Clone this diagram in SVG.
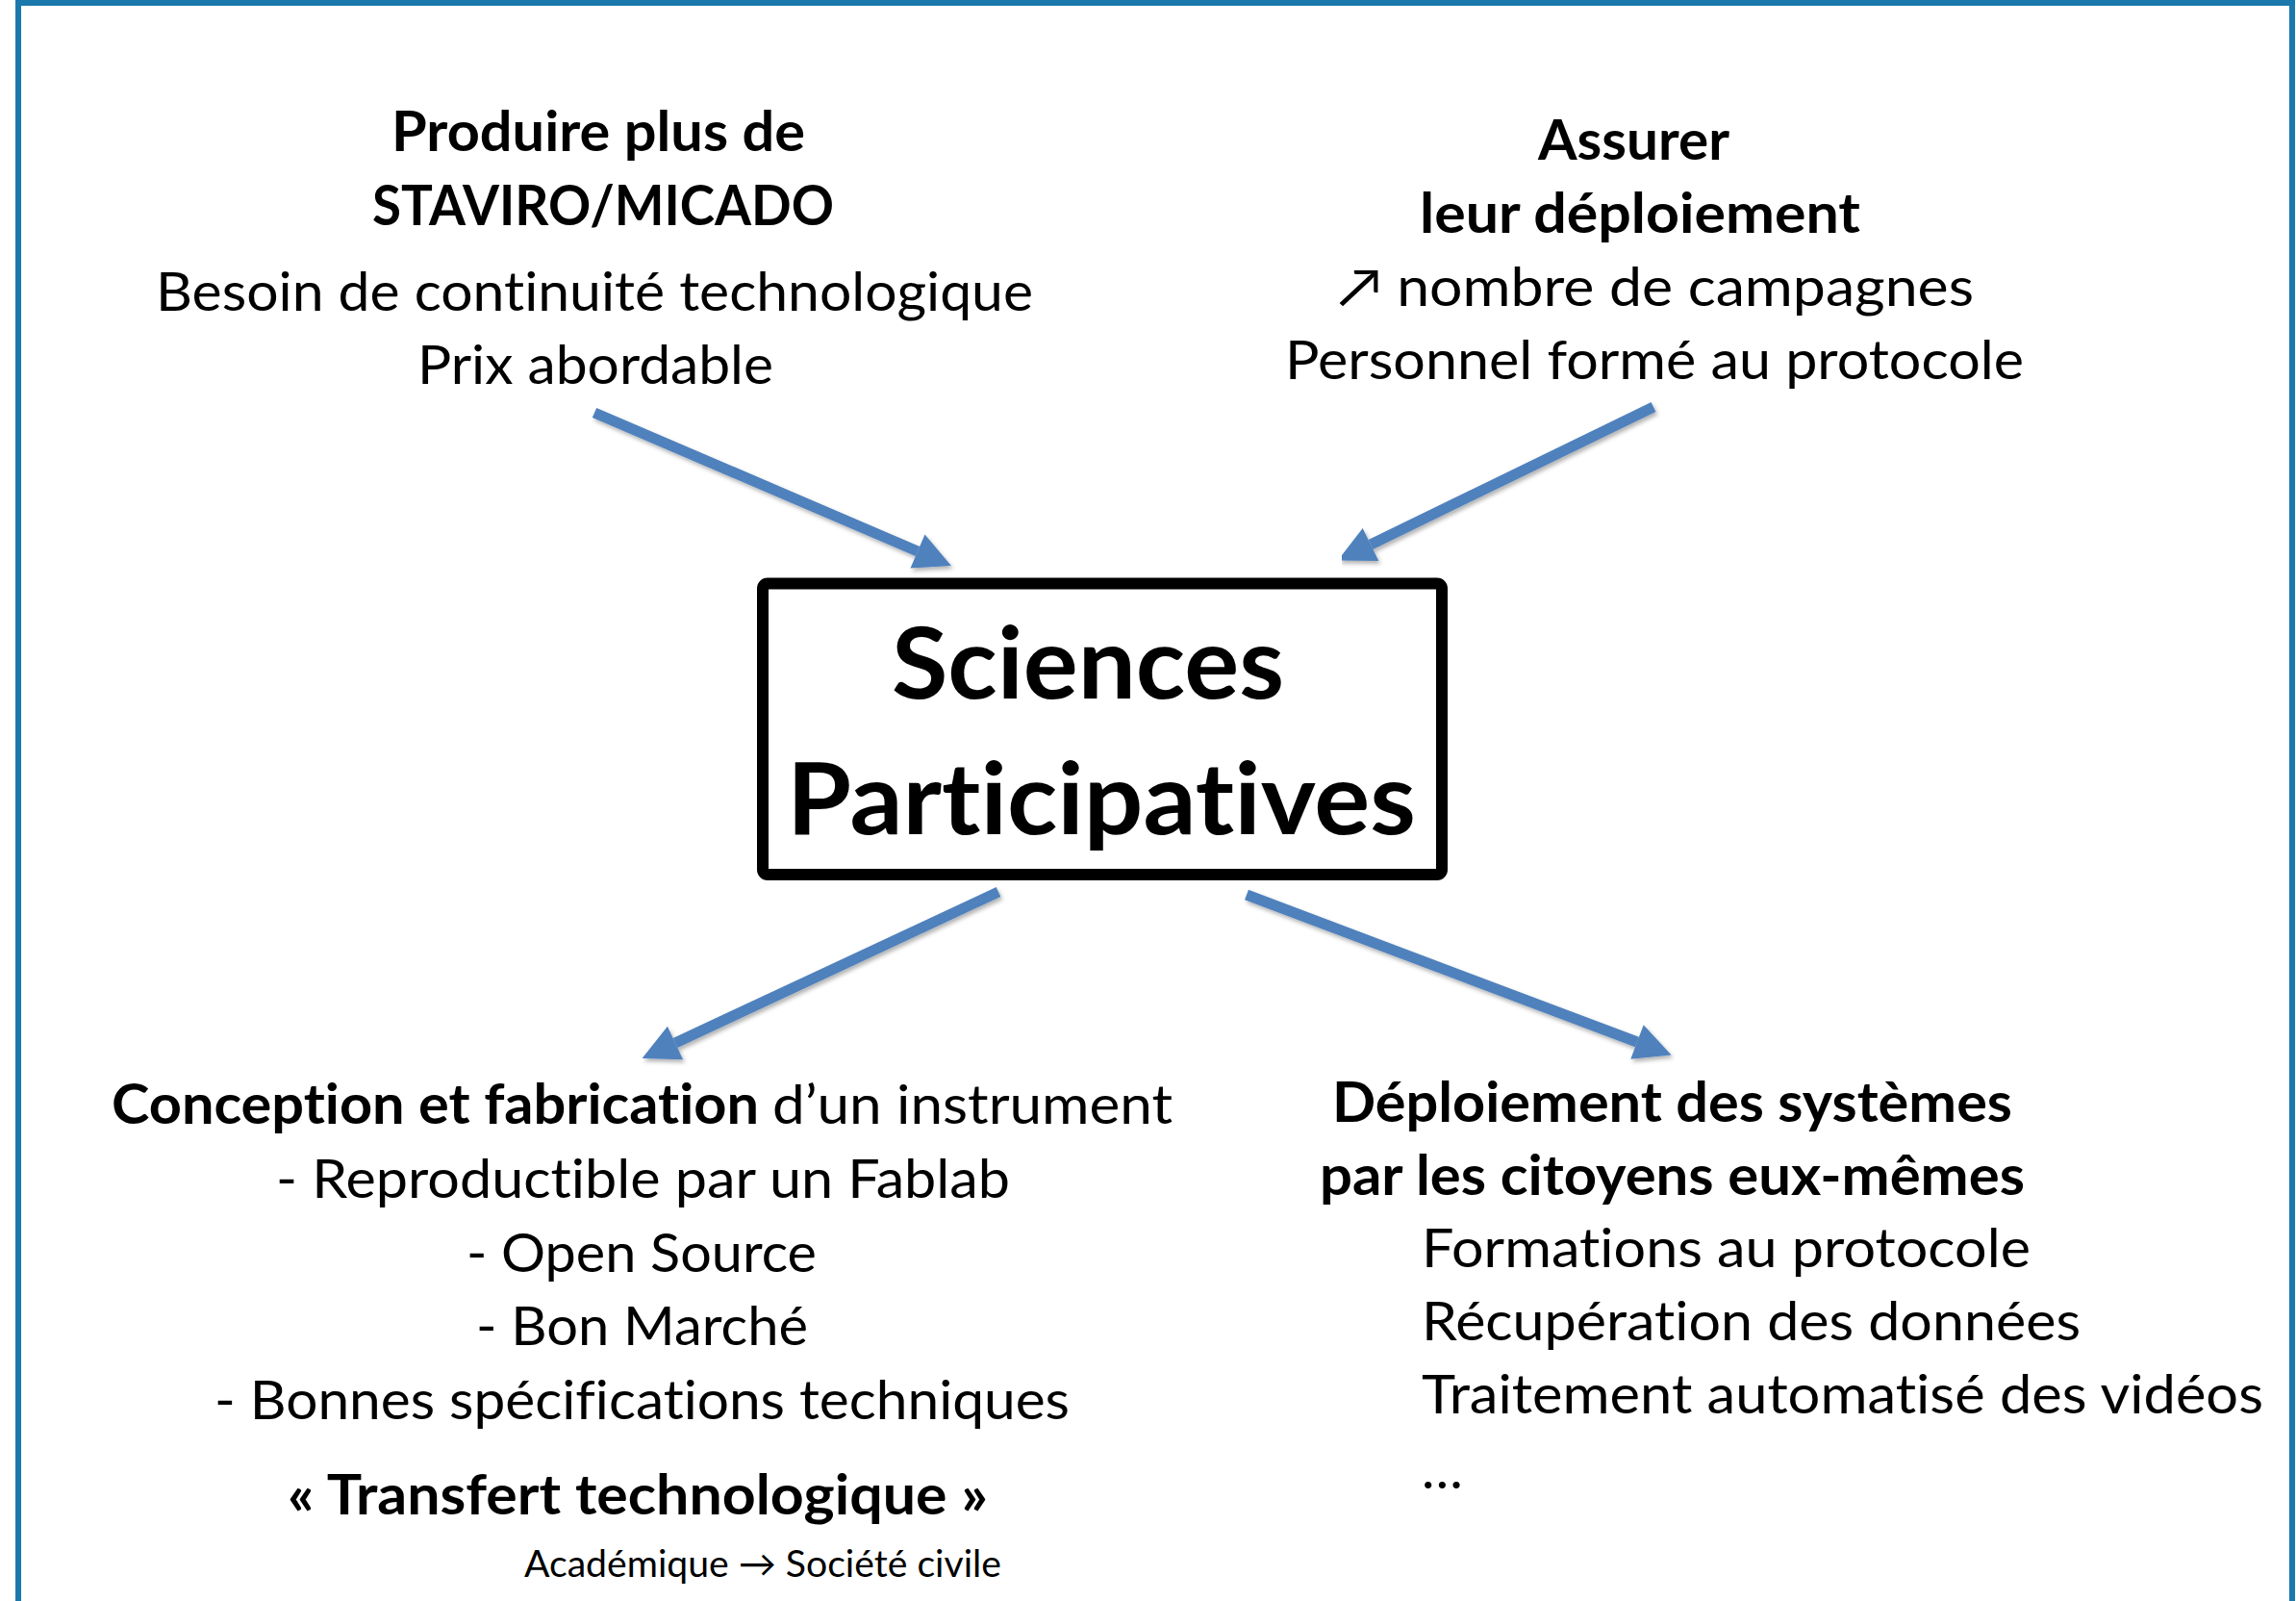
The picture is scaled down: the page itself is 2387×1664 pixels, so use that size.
<svg xmlns="http://www.w3.org/2000/svg" width="2387" height="1664" viewBox="0 0 2387 1664">
  <style>
    text { font-family: Lato, "Open Sans", "Liberation Sans", sans-serif; fill: #000; font-variant-ligatures: none; font-feature-settings: "liga" 0, "dlig" 0; }
    .t { font-size: 57px; }
    .b { font-size: 57px; font-weight: bold; }
    .big { font-size: 103px; font-weight: bold; }
    .small { font-size: 38px; }
    .conn { stroke: #4F81BD; stroke-width: 11; fill: none; marker-end: url(#head); filter: url(#shadow); }
  </style>
  <defs>
    <marker id="head" markerUnits="userSpaceOnUse" markerWidth="40" markerHeight="40" refX="0" refY="19" orient="auto" overflow="visible">
      <path d="M0,0 L38,19 L0,38 Z" fill="#4F81BD"/>
    </marker>
    <filter id="shadow" x="-10%" y="-10%" width="130%" height="130%">
      <feDropShadow dx="2" dy="3" stdDeviation="2" flood-color="#000" flood-opacity="0.3"/>
    </filter>
  </defs>
  <rect width="2387" height="1664" fill="#FFFFFF"/>
  <g id="frame">
    <rect x="19" y="3" width="2364" height="1700" fill="none" stroke="#1A78AC" stroke-width="6"/>
  </g>
  <g id="connectors">
    <line class="conn" x1="618" y1="429" x2="954" y2="573"/>
    <line class="conn" x1="1719" y1="423" x2="1425" y2="566"/>
    <line class="conn" x1="1038" y1="927" x2="702" y2="1084"/>
    <line class="conn" x1="1296" y1="930" x2="1702" y2="1083"/>
  </g>
  <g id="node-center">
    <rect x="793" y="606.5" width="706" height="302.5" rx="5" fill="#FFFFFF" stroke="#000" stroke-width="12"/>
    <text class="big" x="927" y="726" textLength="408" lengthAdjust="spacingAndGlyphs">Sciences</text>
    <text class="big" x="818" y="867" textLength="654" lengthAdjust="spacingAndGlyphs">Participatives</text>
  </g>
  <g id="node-top-left">
    <text class="b" x="407" y="157" textLength="430" lengthAdjust="spacingAndGlyphs">Produire plus de</text>
    <text class="b" x="387" y="234" textLength="480" lengthAdjust="spacingAndGlyphs">STAVIRO/MICADO</text>
    <text class="t" x="162" y="323" textLength="912" lengthAdjust="spacingAndGlyphs">Besoin de continuité technologique</text>
    <text class="t" x="434" y="399" textLength="370" lengthAdjust="spacingAndGlyphs">Prix abordable</text>
  </g>
  <g id="node-top-right">
    <text class="b" x="1599" y="166" textLength="199" lengthAdjust="spacingAndGlyphs">Assurer</text>
    <text class="b" x="1476" y="242" textLength="458" lengthAdjust="spacingAndGlyphs">leur déploiement</text>
    <text class="t" x="1391" y="318" textLength="661" lengthAdjust="spacingAndGlyphs">↗ nombre de campagnes</text>
    <text class="t" x="1336" y="394" textLength="768" lengthAdjust="spacingAndGlyphs">Personnel formé au protocole</text>
  </g>
  <g id="node-bottom-left">
    <text class="b" x="116" y="1168" textLength="673" lengthAdjust="spacingAndGlyphs">Conception et fabrication</text>
    <text class="t" x="803" y="1168" textLength="416" lengthAdjust="spacingAndGlyphs">d’un instrument</text>
    <text class="t" x="287" y="1245" textLength="763" lengthAdjust="spacingAndGlyphs">- Reproductible par un Fablab</text>
    <text class="t" x="485" y="1322" textLength="364" lengthAdjust="spacingAndGlyphs">- Open Source</text>
    <text class="t" x="495" y="1398" textLength="345" lengthAdjust="spacingAndGlyphs">- Bon Marché</text>
    <text class="t" x="223" y="1475" textLength="889" lengthAdjust="spacingAndGlyphs">- Bonnes spécifications techniques</text>
    <text class="b" x="299" y="1574" textLength="728" lengthAdjust="spacingAndGlyphs">« Transfert technologique »</text>
    <text class="small" x="545" y="1639" textLength="496" lengthAdjust="spacingAndGlyphs">Académique → Société civile</text>
  </g>
  <g id="node-bottom-right">
    <text class="b" x="1385" y="1166" textLength="707" lengthAdjust="spacingAndGlyphs">Déploiement des systèmes</text>
    <text class="b" x="1372" y="1242" textLength="733" lengthAdjust="spacingAndGlyphs">par les citoyens eux-mêmes</text>
    <text class="t" x="1478" y="1317" textLength="633" lengthAdjust="spacingAndGlyphs">Formations au protocole</text>
    <text class="t" x="1478" y="1393" textLength="685" lengthAdjust="spacingAndGlyphs">Récupération des données</text>
    <text class="t" x="1478" y="1469" textLength="875" lengthAdjust="spacingAndGlyphs">Traitement automatisé des vidéos</text>
    <text class="t" x="1478" y="1547">…</text>
  </g>
</svg>
